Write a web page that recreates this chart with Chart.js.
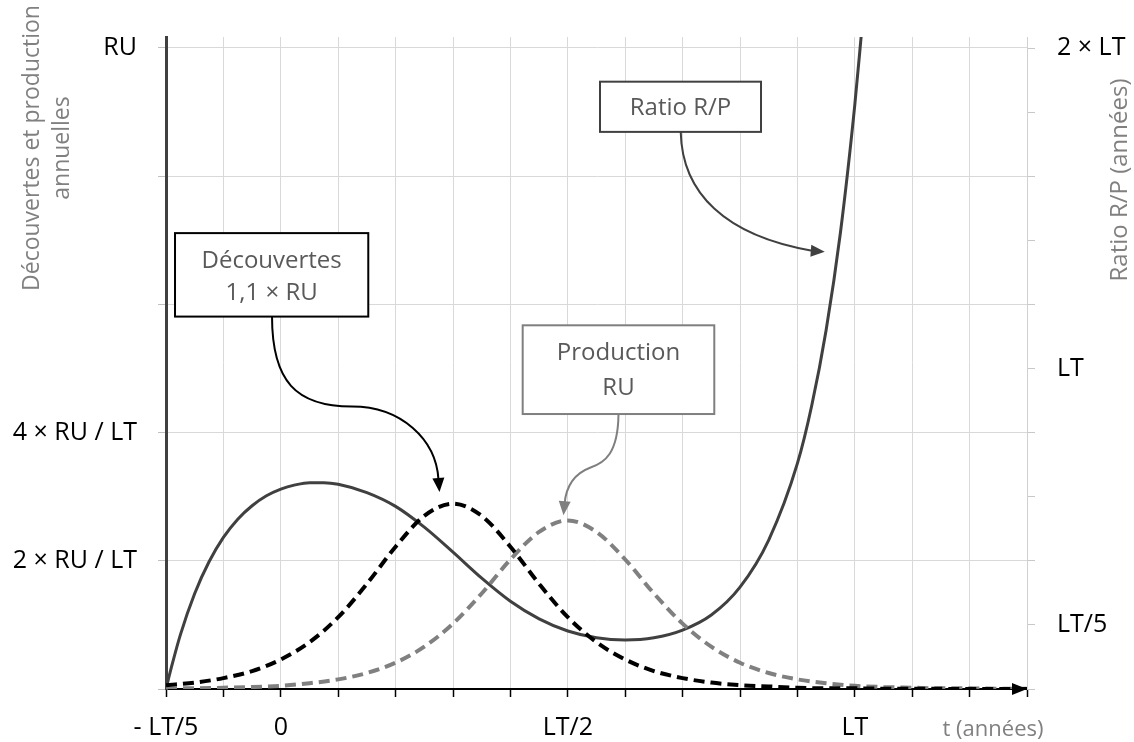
<!DOCTYPE html>
<html>
<head>
<meta charset="utf-8">
<script src="https://cdn.jsdelivr.net/npm/chart.js@4.4.1/dist/chart.umd.min.js"></script>
<style>
html,body{margin:0;padding:0;background:#ffffff;}
canvas{display:block;}
</style>
</head>
<body>
<canvas id="c" width="1134" height="742"></canvas>
<script>
// ---------- data (t in units of LT) ----------
const timeGrid = [-0.2,-0.15,-0.1,-0.05,0,0.05,0.1,0.15,0.2,0.25,0.3,0.35,0.4,0.45,0.5,0.55,0.6,0.65,0.7,0.75,0.8,0.85,0.9,0.95,1.0,1.05,1.1,1.15,1.2,1.25,1.3];
// annual discoveries (units of RU/LT)
const discoveries = [0.06,0.10,0.17,0.28,0.46,0.73,1.12,1.64,2.22,2.70,2.89,2.70,2.22,1.64,1.12,0.73,0.46,0.28,0.17,0.10,0.06,0.04,0.02,0.01,0.01,0.004,0.003,0.002,0.001,0.001,0.0];
// annual production (units of RU/LT)
const production = [0.01,0.01,0.02,0.03,0.05,0.09,0.15,0.25,0.41,0.66,1.02,1.49,2.02,2.45,2.63,2.45,2.02,1.49,1.02,0.66,0.41,0.25,0.15,0.09,0.05,0.03,0.02,0.01,0.01,0.004,0.002];
// R/P ratio (units of LT)
const rpTime  = [-0.2,-0.195,-0.19,-0.175,-0.15,-0.125,-0.1,-0.075,-0.05,-0.025,0,0.025,0.05,0.075,0.1,0.15,0.2,0.25,0.3,0.35,0.4,0.45,0.5,0.55,0.6,0.65,0.7,0.75,0.8,0.85,0.9,0.925,0.95,0.975,1.0,1.0125];
const rpRatio = [0,0.037,0.072,0.169,0.298,0.397,0.473,0.530,0.572,0.603,0.624,0.637,0.644,0.644,0.639,0.613,0.570,0.505,0.427,0.346,0.274,0.219,0.181,0.160,0.153,0.160,0.184,0.231,0.318,0.465,0.704,0.885,1.120,1.425,1.823,2.065];

// ---------- ticks ----------
const xTickValues = [-0.2,-0.1,0,0.1,0.2,0.3,0.4,0.5,0.6,0.7,0.8,0.9,1.0,1.1,1.2,1.3];
const xLabelValues = [-0.2,0,0.5,1];
const xLabelTexts = ['- LT/5','0','LT/2','LT'];
const leftTickValues = [0,2,4,6,8,10];
const leftLabelValues = [2,4,10];
const leftLabelTexts = ['2 × RU / LT','4 × RU / LT','RU'];
const rightTickValues = [0,0.2,0.4,0.6,0.8,1.0,1.2,1.4,1.6,1.8,2.0];
const rightLabelValues = [0.2,1,2];
const rightLabelTexts = ['LT/5','LT','2 × LT'];

function labelFor(values, texts, v){
  const i = values.findIndex(x => Math.abs(x - v) < 1e-9);
  return i < 0 ? '' : texts[i];
}
function pts(xs, ys){ return xs.map((x,i)=>({x:x, y:ys[i]})); }

const FONT = '"Open Sans", "DejaVu Sans", sans-serif';

// ---------- annotations (positions in data units: t, left-axis value) ----------
const annotationBoxes = [
  {x1:-0.1843, x2:0.1524, y1:7.111, y2:5.809, border:'#000000', lines:['Découvertes','1,1 × RU'], lineY:[6.677,6.167]},
  {x1:0.4214, x2:0.7552, y1:5.673, y2:4.289, border:'#7f7f7f', lines:['Production','RU'], lineY:[5.234,4.693]},
  {x1:0.5561, x2:0.8366, y1:9.473, y2:8.690, border:'#404040', lines:['Ratio R/P'], lineY:[9.058]}
];
const annotationArrows = [
  {color:'#000000', start:[-0.0153,5.809], segs:[[[-0.0153,4.799],[0.0265,4.406],[0.1240,4.406]],[[0.2100,4.406],[0.2704,3.891],[0.2747,3.270]]], tip:[0.2765,3.073]},
  {color:'#7f7f7f', start:[0.5883,4.285], segs:[[[0.5875,3.679],[0.5648,3.528],[0.5387,3.452]],[[0.5073,3.346],[0.4969,3.134],[0.4943,2.892]]], tip:[0.4925,2.710]},
  {color:'#404040', start:[0.6967,8.690], segs:[[[0.6990,7.737],[0.7739,7.070],[0.9254,6.836]]], tip:[0.9477,6.821]}
];

function arrowHead(ctx, bx, by, tx, ty, len, half, color){
  const dx = tx-bx, dy = ty-by, d = Math.hypot(dx,dy) || 1;
  const ux = dx/d, uy = dy/d;
  const baseX = tx - ux*len, baseY = ty - uy*len;
  ctx.fillStyle = color;
  ctx.beginPath();
  ctx.moveTo(tx,ty);
  ctx.lineTo(baseX - uy*half, baseY + ux*half);
  ctx.lineTo(baseX + uy*half, baseY - ux*half);
  ctx.closePath();
  ctx.fill();
}

const decorPlugin = {
  id:'decor',
  afterDatasetsDraw(chart){
    const ctx = chart.ctx;
    const xs = chart.scales.x, ys = chart.scales.y;
    const P = (t,v) => ({x:xs.getPixelForValue(t), y:ys.getPixelForValue(v)});
    ctx.save();
    // x-axis arrow head
    const end = P(1.3,0);
    arrowHead(ctx, end.x-20, end.y, end.x, end.y, 15, 6, '#000000');

    // arrows
    annotationArrows.forEach(a=>{
      const s = P(a.start[0],a.start[1]);
      ctx.strokeStyle = a.color; ctx.lineWidth = 2; ctx.lineCap='butt';
      ctx.beginPath(); ctx.moveTo(s.x,s.y);
      let last = s;
      a.segs.forEach(sg=>{
        const c1=P(sg[0][0],sg[0][1]), c2=P(sg[1][0],sg[1][1]), e=P(sg[2][0],sg[2][1]);
        ctx.bezierCurveTo(c1.x,c1.y,c2.x,c2.y,e.x,e.y);
        last = e;
      });
      ctx.stroke();
      const tp = P(a.tip[0],a.tip[1]);
      arrowHead(ctx, last.x, last.y, tp.x, tp.y, 14, 6, a.color);
    });

    // boxes
    annotationBoxes.forEach(b=>{
      const p1 = P(b.x1,b.y1), p2 = P(b.x2,b.y2);
      ctx.fillStyle = '#ffffff';
      ctx.fillRect(p1.x,p1.y,p2.x-p1.x,p2.y-p1.y);
      ctx.strokeStyle = b.border; ctx.lineWidth = 2;
      ctx.strokeRect(p1.x,p1.y,p2.x-p1.x,p2.y-p1.y);
      ctx.fillStyle = '#595959';
      ctx.font = '24px ' + FONT;
      ctx.textAlign='center'; ctx.textBaseline='middle';
      b.lines.forEach((ln,i)=>{
        ctx.fillText(ln, (p1.x+p2.x)/2, ys.getPixelForValue(b.lineY[i]));
      });
    });

    // axis titles
    ctx.fillStyle = '#808080';
    ctx.textAlign='center'; ctx.textBaseline='middle';
    ctx.font = '23px ' + FONT;
    ctx.save();
    ctx.translate(32,148); ctx.rotate(-Math.PI/2);
    ctx.fillText('Découvertes et production',0,0);
    ctx.restore();
    ctx.save();
    ctx.translate(62,148); ctx.rotate(-Math.PI/2);
    ctx.fillText('annuelles',0,0);
    ctx.restore();
    ctx.font = '24px ' + FONT;
    ctx.save();
    ctx.translate(1120,180); ctx.rotate(-Math.PI/2);
    ctx.fillText('Ratio R/P (années)',0,0);
    ctx.restore();
    ctx.font = '22px ' + FONT;
    ctx.fillText('t (années)', 993, 730);
    ctx.restore();
  }
};

new Chart(document.getElementById('c'), {
  type:'line',
  data:{
    datasets:[
      {label:'Découvertes', data:pts(timeGrid,discoveries), yAxisID:'y',
       borderColor:'#000000', borderWidth:4, borderDash:[11,6], pointRadius:0, cubicInterpolationMode:'monotone', fill:false},
      {label:'Production', data:pts(timeGrid,production), yAxisID:'y',
       borderColor:'#808080', borderWidth:4, borderDash:[11,6], pointRadius:0, cubicInterpolationMode:'monotone', fill:false},
      {label:'Ratio R/P', data:pts(rpTime,rpRatio), yAxisID:'y2',
       borderColor:'#404040', borderWidth:3, pointRadius:0, cubicInterpolationMode:'monotone', fill:false}
    ]
  },
  options:{
    responsive:false,
    devicePixelRatio:1,
    animation:false,
    layout:{padding:{top:17,left:0,right:0,bottom:0}},
    plugins:{legend:{display:false}, tooltip:{enabled:false}, title:{display:false}},
    scales:{
      x:{
        type:'linear', min:-0.2, max:1.3,
        afterBuildTicks:s=>{ s.ticks = xTickValues.map(v=>({value:v})); },
        afterFit:s=>{ s.height = 53; },
        ticks:{autoSkip:false, maxRotation:0, minRotation:0, padding:16, color:'#000000',
               font:{family:FONT, size:25},
               callback:v=>labelFor(xLabelValues,xLabelTexts,v)},
        grid:{color:'#d9d9d9', lineWidth:1, tickColor:'#000000', tickLength:8, tickWidth:1.5},
        border:{color:'#000000', width:2}
      },
      y:{
        type:'linear', position:'left', min:0, max:10.17,
        afterBuildTicks:s=>{ s.ticks = leftTickValues.map(v=>({value:v})); },
        afterFit:s=>{ s.width = 166; },
        ticks:{padding:21, color:'#000000', font:{family:FONT, size:25},
               callback:v=>labelFor(leftLabelValues,leftLabelTexts,v)},
        grid:{color:'#d9d9d9', lineWidth:1, tickColor:'#bfbfbf', tickLength:8},
        border:{color:'#404040', width:3}
      },
      y2:{
        type:'linear', position:'right', min:0, max:2.035,
        afterBuildTicks:s=>{ s.ticks = rightTickValues.map(v=>({value:v})); },
        afterFit:s=>{ s.width = 107; },
        ticks:{padding:22, color:'#000000', font:{family:FONT, size:25},
               callback:v=>labelFor(rightLabelValues,rightLabelTexts,v)},
        grid:{drawOnChartArea:false, color:'#d9d9d9', tickColor:'#c8c8c8', tickLength:8},
        border:{color:'#d0d0d0', width:1}
      }
    }
  },
  plugins:[decorPlugin]
});
</script>
</body>
</html>
